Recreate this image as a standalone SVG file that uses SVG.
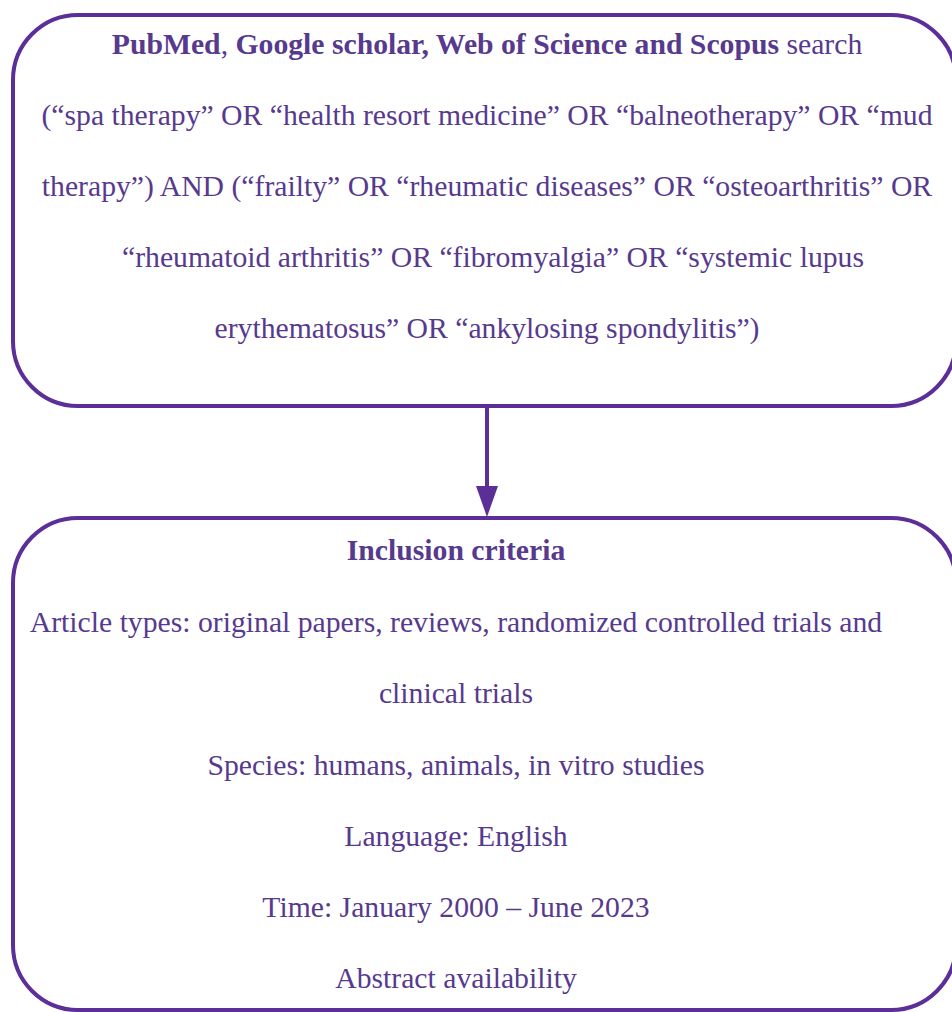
<svg xmlns="http://www.w3.org/2000/svg" width="952" height="1012" viewBox="0 0 952 1012">
<defs>
<style>
.box{fill:#ffffff;stroke:#5b2e98;stroke-width:4}
.t{font-family:"Liberation Serif","Times New Roman",serif;font-size:29.7px;fill:#573a8e;text-anchor:middle}
.b{font-weight:bold}
.edge{stroke:#5b2e98;stroke-width:4;fill:none}
</style>
</defs>
<rect width="952" height="1012" fill="#ffffff"/>
<g id="connectors">
<line class="edge" x1="487" y1="406" x2="487" y2="486"/>
<path d="M476,486 L498,486 L487,517 Z" fill="#5b2e98"/>
</g>
<g id="search">
<rect class="box" x="13" y="15" width="943" height="391" rx="65" ry="65"/>
<text class="t" x="487" y="54"><tspan class="b">PubMed</tspan>, <tspan class="b">Google scholar, Web of Science and Scopus</tspan> search</text>
<text class="t" x="487" y="125">(“spa therapy” OR “health resort medicine” OR “balneotherapy” OR “mud</text>
<text class="t" x="487" y="196">therapy”) AND (“frailty” OR “rheumatic diseases” OR “osteoarthritis” OR</text>
<text class="t" x="493" y="267">“rheumatoid arthritis” OR “fibromyalgia” OR “systemic lupus</text>
<text class="t" x="487" y="338">erythematosus” OR “ankylosing spondylitis”)</text>
</g>
<g id="inclusion">
<rect class="box" x="13" y="518" width="943" height="492" rx="65" ry="65"/>
<text class="t b" x="456" y="560">Inclusion criteria</text>
<text class="t" x="456" y="632">Article types: original papers, reviews, randomized controlled trials and</text>
<text class="t" x="456" y="703">clinical trials</text>
<text class="t" x="456" y="775">Species: humans, animals, in vitro studies</text>
<text class="t" x="456" y="846">Language: English</text>
<text class="t" x="456" y="917">Time: January 2000 – June 2023</text>
<text class="t" x="456" y="988">Abstract availability</text>
</g>
</svg>
